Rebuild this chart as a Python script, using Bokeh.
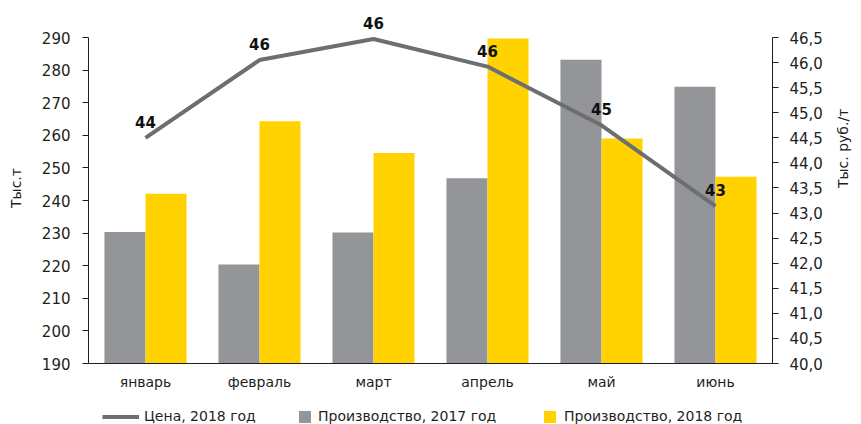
import math
from bokeh.plotting import figure
from bokeh.layouts import column
from bokeh.models import (FactorRange, Range1d, LinearAxis, FixedTicker, CustomJSTickFormatter,
                          Legend, LegendItem, ColumnDataSource)
from bokeh.transform import dodge
from bokeh.core.properties import value
from bokeh.embed import file_html
from bokeh.resources import INLINE

# ---- data ----
months = ["январь", "февраль", "март", "апрель", "май", "июнь"]
prod_2017 = [230.3, 220.4, 230.2, 246.8, 283.2, 274.9]
prod_2018 = [242.1, 264.3, 254.6, 289.7, 259.0, 247.3]
price_2018 = [44.5, 46.05, 46.47, 45.92, 44.75, 43.14]
price_labels = ["44", "46", "46", "46", "45", "43"]
left_ticks = [190, 200, 210, 220, 230, 240, 250, 260, 270, 280, 290]
right_ticks = [40.0, 40.5, 41.0, 41.5, 42.0, 42.5, 43.0, 43.5, 44.0, 44.5, 45.0, 45.5, 46.0, 46.5]
series_names = ["Цена, 2018 год", "Производство, 2017 год", "Производство, 2018 год"]
left_title = "Тыс.т"
right_title = "Тыс. руб./т"

# ---- style ----
FONT = "DejaVu Sans"
TXT = "#1e1e1e"
GRAY = "#939598"
YELLOW = "#FFD200"
LINE = "#6d6e71"

W = 861
H_MAIN, H_LEG = 396, 28
BL, BR, BT, BB = 88, 89, 12, 33
frame_h = H_MAIN - BT - BB
axis_px = 326.0  # pixel height of the labelled axis span
l_lo, l_hi = left_ticks[0], left_ticks[-1]
r_lo, r_hi = right_ticks[0], right_ticks[-1]
l_top = l_lo + (l_hi - l_lo) * frame_h / axis_px
r_top = r_lo + (r_hi - r_lo) * frame_h / axis_px

src = ColumnDataSource(dict(month=months, p17=prod_2017, p18=prod_2018,
                            price=price_2018, lab=price_labels))

p = figure(x_range=FactorRange(*months), y_range=Range1d(l_lo, l_top),
           width=W, height=H_MAIN, output_backend="svg", toolbar_location=None,
           min_border_left=BL, min_border_right=BR, min_border_top=BT, min_border_bottom=BB,
           outline_line_color=None, background_fill_color="white", border_fill_color="white")
p.extra_y_ranges = {"price": Range1d(r_lo, r_top)}
p.xgrid.visible = False
p.ygrid.visible = False
p.x_range.range_padding = 0

bw = 0.36
r17 = p.vbar(x=dodge("month", -bw / 2, range=p.x_range), top="p17", bottom=l_lo, width=bw,
             source=src, fill_color=GRAY, line_color=None)
r18 = p.vbar(x=dodge("month", bw / 2, range=p.x_range), top="p18", bottom=l_lo, width=bw,
             source=src, fill_color=YELLOW, line_color=None)
rl = p.line(x="month", y="price", source=src, y_range_name="price",
            line_color=LINE, line_width=4, line_join="round")
p.text(x="month", y="price", text="lab", source=src, y_range_name="price",
       y_offset=-16, text_align="center", text_baseline="middle",
       text_font=value(FONT), text_font_size="15px", text_font_style="bold", text_color="#111111")

# left axis
ya = p.yaxis[0]
ya.ticker = FixedTicker(ticks=left_ticks)
ya.bounds = (l_lo, l_hi)
ya.axis_label = left_title

ra = LinearAxis(y_range_name="price", ticker=FixedTicker(ticks=right_ticks), bounds=(r_lo, r_hi),
                axis_label=right_title,
                formatter=CustomJSTickFormatter(code="return tick.toFixed(1).replace('.', ',');"))
p.add_layout(ra, "right")

for ax in [ya, ra]:
    ax.minor_tick_line_color = None
    ax.major_tick_out = 6
    ax.major_tick_in = 0
    ax.major_label_text_font = FONT
    ax.major_label_text_font_size = "15px"
    ax.major_label_text_color = TXT
    ax.axis_label_text_font = FONT
    ax.axis_label_text_font_size = "14px"
    ax.axis_label_text_font_style = "normal"
    ax.axis_label_text_color = TXT
    ax.axis_line_color = TXT
    ax.major_tick_line_color = TXT
ya.major_label_standoff = 12
ra.major_label_standoff = 11
ya.axis_label_standoff = 15
ra.axis_label_standoff = 17
try:
    ra.axis_label_orientation = math.pi / 2
except Exception:
    pass

xa = p.xaxis[0]
xa.major_tick_line_color = None
xa.minor_tick_line_color = None
xa.major_tick_out = 0
xa.major_label_standoff = 10
xa.major_label_text_font = FONT
xa.major_label_text_font_size = "14px"
xa.major_label_text_color = TXT
xa.axis_line_color = TXT

# ---- legend strip (its frame is aligned with the chart frame) ----
lf = figure(width=W, height=H_LEG, x_range=FactorRange(*months), y_range=Range1d(0, 1),
            x_axis_type=None, y_axis_type=None, output_backend="svg", toolbar_location=None,
            min_border=0, outline_line_color=None, background_fill_color="white",
            border_fill_color="white")
lf.xgrid.visible = False
lf.ygrid.visible = False
# proxy renderers: same data, outside this strip's view and with zero area,
# so only their legend glyphs show
pl = lf.line(x="month", y="price", source=src, line_color=LINE, line_width=4)
pg = lf.vbar(x="month", top="p17", bottom="p17", width=0, source=src,
             fill_color=GRAY, line_color=None)
py = lf.vbar(x="month", top="p18", bottom="p18", width=0, source=src,
             fill_color=YELLOW, line_color=None)

def make_legend(item_name, renderer, x, gw, standoff):
    lg = Legend(items=[LegendItem(label=item_name, renderers=[renderer])],
                location=(x - BL, 0), orientation="horizontal",
                glyph_width=gw, glyph_height=15, label_height=15, label_standoff=standoff,
                padding=0, margin=0, spacing=0, border_line_color=None, background_fill_alpha=0,
                label_text_font=FONT, label_text_font_size="14px", label_text_color=TXT)
    lf.add_layout(lg, "center")

make_legend(series_names[0], pl, 102, 37, 5)
make_legend(series_names[1], pg, 297, 15, 6)
make_legend(series_names[2], py, 542, 15, 7)

layout = column(p, lf, spacing=0)
open("out.html", "w").write(file_html(layout, INLINE))
